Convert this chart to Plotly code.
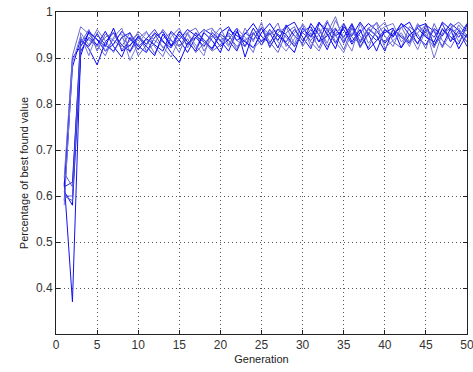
import plotly.graph_objects as go

generations = list(range(1, 51))

run1 = [0.62, 0.90, 0.925, 0.955, 0.94, 0.915, 0.93, 0.958, 0.94, 0.925,
        0.912, 0.945, 0.957, 0.928, 0.94, 0.962, 0.948, 0.935, 0.921, 0.955,
        0.968, 0.938, 0.952, 0.975, 0.947, 0.932, 0.963, 0.951, 0.925, 0.957,
        0.968, 0.935, 0.978, 0.948, 0.962, 0.93, 0.955, 0.975, 0.96, 0.932,
        0.953, 0.966, 0.978, 0.944, 0.928, 0.964, 0.948, 0.975, 0.961, 0.945]
run2 = [0.64, 0.905, 0.968, 0.952, 0.928, 0.905, 0.945, 0.965, 0.912, 0.942,
        0.958, 0.925, 0.903, 0.946, 0.965, 0.922, 0.955, 0.915, 0.944, 0.966,
        0.928, 0.957, 0.938, 0.912, 0.968, 0.95, 0.976, 0.925, 0.955, 0.97,
        0.935, 0.915, 0.955, 0.99, 0.936, 0.966, 0.922, 0.952, 0.978, 0.948,
        0.925, 0.968, 0.935, 0.975, 0.95, 0.922, 0.965, 0.937, 0.972, 0.948]
run3 = [0.59, 0.88, 0.942, 0.92, 0.885, 0.935, 0.955, 0.928, 0.915, 0.948,
        0.93, 0.955, 0.938, 0.912, 0.89, 0.932, 0.945, 0.962, 0.95, 0.925,
        0.94, 0.965, 0.902, 0.955, 0.928, 0.962, 0.938, 0.972, 0.948, 0.932,
        0.975, 0.95, 0.918, 0.962, 0.945, 0.975, 0.935, 0.965, 0.948, 0.915,
        0.962, 0.945, 0.932, 0.968, 0.975, 0.928, 0.962, 0.945, 0.93, 0.972]
run4 = [0.60, 0.60, 0.955, 0.928, 0.962, 0.938, 0.912, 0.945, 0.925, 0.958,
        0.94, 0.91, 0.942, 0.955, 0.925, 0.952, 0.92, 0.958, 0.965, 0.935,
        0.952, 0.918, 0.965, 0.935, 0.978, 0.922, 0.955, 0.968, 0.93, 0.975,
        0.948, 0.965, 0.932, 0.982, 0.945, 0.915, 0.975, 0.932, 0.955, 0.968,
        0.975, 0.935, 0.952, 0.918, 0.962, 0.90, 0.955, 0.972, 0.935, 0.965]
run5 = [0.63, 0.37, 0.915, 0.945, 0.928, 0.958, 0.925, 0.902, 0.945, 0.918,
        0.942, 0.928, 0.915, 0.958, 0.94, 0.912, 0.945, 0.925, 0.955, 0.938,
        0.915, 0.958, 0.925, 0.965, 0.935, 0.955, 0.922, 0.968, 0.978, 0.945,
        0.92, 0.975, 0.962, 0.932, 0.968, 0.948, 0.978, 0.952, 0.915, 0.962,
        0.945, 0.975, 0.962, 0.93, 0.972, 0.958, 0.925, 0.965, 0.945, 0.975]
run6 = [0.65, 0.62, 0.932, 0.962, 0.915, 0.952, 0.938, 0.925, 0.955, 0.905,
        0.928, 0.952, 0.922, 0.94, 0.912, 0.955, 0.965, 0.935, 0.915, 0.928,
        0.955, 0.938, 0.925, 0.952, 0.965, 0.935, 0.912, 0.955, 0.968, 0.925,
        0.955, 0.922, 0.965, 0.95, 0.918, 0.965, 0.948, 0.922, 0.962, 0.978,
        0.935, 0.922, 0.968, 0.952, 0.92, 0.975, 0.938, 0.922, 0.955, 0.935]
run7 = [0.61, 0.58, 0.905, 0.958, 0.94, 0.925, 0.965, 0.915, 0.928, 0.945,
        0.925, 0.905, 0.952, 0.925, 0.958, 0.935, 0.915, 0.955, 0.938, 0.912,
        0.962, 0.948, 0.935, 0.922, 0.955, 0.975, 0.948, 0.932, 0.912, 0.965,
        0.945, 0.978, 0.952, 0.92, 0.975, 0.935, 0.962, 0.918, 0.938, 0.955,
        0.965, 0.922, 0.95, 0.965, 0.945, 0.935, 0.978, 0.962, 0.92, 0.952]
run8 = [0.58, 0.89, 0.948, 0.905, 0.955, 0.915, 0.942, 0.952, 0.895, 0.932,
        0.955, 0.938, 0.925, 0.902, 0.942, 0.955, 0.928, 0.905, 0.962, 0.948,
        0.925, 0.965, 0.945, 0.922, 0.938, 0.962, 0.935, 0.915, 0.942, 0.972,
        0.925, 0.952, 0.982, 0.935, 0.912, 0.955, 0.938, 0.965, 0.975, 0.922,
        0.938, 0.955, 0.925, 0.972, 0.948, 0.962, 0.922, 0.955, 0.965, 0.935]
run9 = [0.62, 0.63, 0.938, 0.925, 0.952, 0.928, 0.915, 0.945, 0.955, 0.925,
        0.942, 0.962, 0.935, 0.922, 0.952, 0.928, 0.955, 0.94, 0.918, 0.952,
        0.938, 0.915, 0.955, 0.94, 0.965, 0.925, 0.952, 0.935, 0.962, 0.938,
        0.962, 0.935, 0.948, 0.965, 0.932, 0.972, 0.925, 0.955, 0.938, 0.962,
        0.948, 0.975, 0.95, 0.932, 0.962, 0.945, 0.975, 0.935, 0.96, 0.925]
run10 = [0.60, 0.59, 0.928, 0.94, 0.925, 0.945, 0.955, 0.918, 0.938, 0.952,
         0.915, 0.932, 0.962, 0.938, 0.925, 0.942, 0.912, 0.932, 0.948, 0.94,
         0.948, 0.925, 0.938, 0.955, 0.928, 0.952, 0.962, 0.945, 0.925, 0.955,
         0.938, 0.962, 0.925, 0.952, 0.975, 0.945, 0.932, 0.962, 0.948, 0.935,
         0.962, 0.948, 0.935, 0.955, 0.972, 0.925, 0.952, 0.965, 0.978, 0.958]

runs = [run1, run2, run3, run4, run5, run6, run7, run8, run9, run10]
colors = ["#0000ff", "#6a6ad6", "#0a0af5", "#7474da", "#1010ee",
          "#6060d2", "#0000ff", "#7878dc", "#2828e6", "#5858cc"]

x_ticks = [0, 5, 10, 15, 20, 25, 30, 35, 40, 45, 50]
y_ticks = [0.4, 0.5, 0.6, 0.7, 0.8, 0.9, 1.0]
y_tick_labels = ["0.4", "0.5", "0.6", "0.7", "0.8", "0.9", "1"]

fig = go.Figure()
for r, c in zip(runs, colors):
    fig.add_trace(go.Scatter(x=generations, y=r, mode="lines",
                             line=dict(color=c, width=1), showlegend=False,
                             hoverinfo="skip"))

font_family = "Liberation Sans, Arial, sans-serif"
axis_common = dict(showline=True, linecolor="#222", linewidth=1, mirror="ticks",
                   ticks="inside", ticklen=4, tickcolor="#222",
                   showgrid=True, gridcolor="#555555", griddash="1px,3px", gridwidth=1,
                   zeroline=False, ticklabeloverflow="allow", automargin=False,
                   tickfont=dict(family=font_family, size=12, color="#333"))

fig.update_xaxes(range=[0, 50], tickvals=x_ticks, **axis_common,
                 title=dict(text="Generation", standoff=3,
                            font=dict(family=font_family, size=11, color="#222")))
fig.update_yaxes(range=[0.3, 1.0], tickvals=y_ticks, ticktext=y_tick_labels, **axis_common,
                 title=dict(text="Percentage of best found value", standoff=5,
                            font=dict(family=font_family, size=11, color="#222")))

fig.update_layout(width=473, height=372, margin=dict(l=56, r=6, t=12, b=38),
                  plot_bgcolor="white", paper_bgcolor="white")

fig.write_html("out.html")
